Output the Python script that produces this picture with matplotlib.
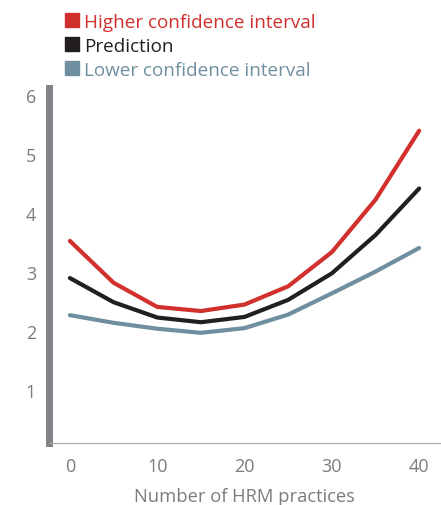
import matplotlib
matplotlib.use('Agg')
import matplotlib.pyplot as plt
from matplotlib.lines import Line2D

plt.rcParams['font.family'] = ['Open Sans', 'DejaVu Sans']

practices = [0, 5, 10, 15, 20, 25, 30, 35, 40]
higher_ci = [3.53, 2.82, 2.41, 2.34, 2.45, 2.76, 3.34, 4.23, 5.40]
prediction = [2.90, 2.49, 2.23, 2.15, 2.24, 2.53, 2.98, 3.63, 4.42]
lower_ci = [2.27, 2.14, 2.04, 1.97, 2.05, 2.28, 2.64, 3.01, 3.41]

x_ticks = [0, 10, 20, 30, 40]
y_ticks = [1, 2, 3, 4, 5, 6]

red = '#d1302c'
black = '#231f20'
blue = '#6f8fa0'
gray = '#7b7c7f'

fig = plt.figure(figsize=(4.41, 5.06), dpi=100)
ax = fig.add_axes([0.110, 0.1225, 0.890, 0.701])

style = dict(linewidth=3.0, solid_capstyle='round', solid_joinstyle='round')
ax.plot(practices, lower_ci, color=blue, **style)
ax.plot(practices, prediction, color=black, **style)
ax.plot(practices, higher_ci, color=red, **style)

ax.set_xlim(-2.45, 42.5)
ax.set_ylim(0.1, 6.12)
ax.set_xticks(x_ticks)
ax.set_yticks(y_ticks)

for side in ['top', 'right']:
    ax.spines[side].set_visible(False)
ax.spines['left'].set_linewidth(5.0)
ax.spines['left'].set_color('#818285')
ax.spines['bottom'].set_linewidth(0.8)
ax.spines['bottom'].set_color('#a7a8aa')

ax.tick_params(axis='y', length=0, pad=9, labelsize=13, labelcolor=gray)
ax.tick_params(axis='x', length=0, pad=10, labelsize=13, labelcolor=gray)
ax.set_xlabel('Number of HRM practices', fontsize=13.2, color=gray, labelpad=9)

handles = [
    Line2D([], [], marker='s', linestyle='none', markersize=9.6, color=red),
    Line2D([], [], marker='s', linestyle='none', markersize=9.6, color=black),
    Line2D([], [], marker='s', linestyle='none', markersize=9.6, color=blue),
]
labels = ['Higher confidence interval', 'Prediction', 'Lower confidence interval']
fig.legend(handles, labels, loc='upper left', bbox_to_anchor=(0.112, 1.003),
           frameon=False, fontsize=13.6, handlelength=0.75, handletextpad=0.3,
           labelspacing=0.33, borderpad=0.3, labelcolor=[red, black, blue])

fig.savefig('out.png', dpi=100)
